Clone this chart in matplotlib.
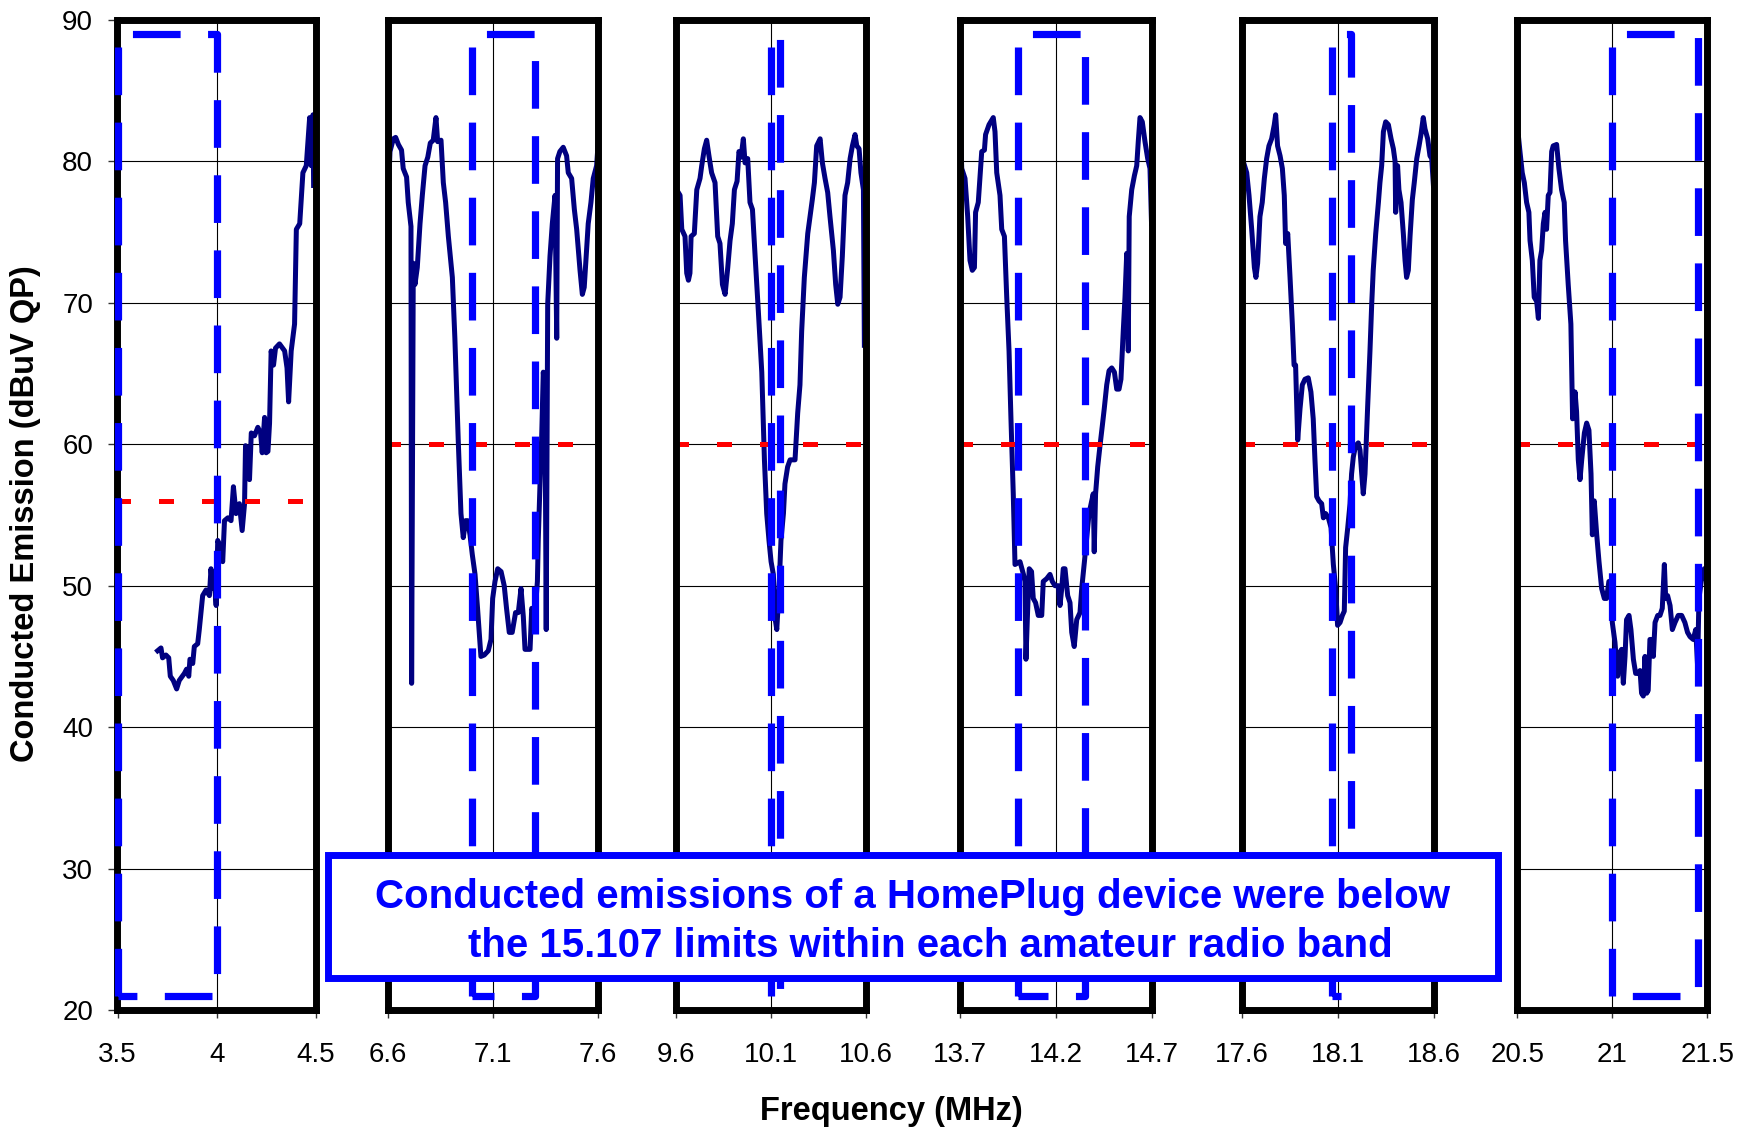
import matplotlib
matplotlib.use("Agg")
import matplotlib.pyplot as plt
from matplotlib.patches import Rectangle

# panel start frequencies (MHz), each panel spans 1 MHz
panel_starts = [3.5, 6.6, 9.6, 13.7, 17.6, 20.5]
# amateur bands (MHz)
band_low = [3.5, 7.0, 10.1, 14.0, 18.068, 21.0]
band_high = [4.0, 7.3, 10.15, 14.35, 18.168, 21.45]
# 15.107 limit per panel (dBuV QP)
limits = [56, 60, 60, 60, 60, 60]

f1 = [3.702, 3.719, 3.727, 3.744, 3.758, 3.766, 3.781, 3.798, 3.811, 3.837,
      3.848, 3.859, 3.865, 3.879, 3.887, 3.904, 3.912, 3.929, 3.946, 3.963,
      3.971, 3.980, 3.988, 3.997, 4.005, 4.017, 4.030, 4.039, 4.056, 4.072,
      4.084, 4.097, 4.114, 4.128, 4.140, 4.145, 4.157, 4.165, 4.174, 4.190,
      4.207, 4.221, 4.229, 4.241, 4.249, 4.258, 4.266, 4.274, 4.286, 4.296,
      4.316, 4.342, 4.354, 4.362, 4.375, 4.392, 4.401, 4.418, 4.434, 4.451,
      4.468, 4.476, 4.485, 4.488]
l1 = [45.4, 45.6, 44.9, 45.1, 44.9, 43.6, 43.3, 42.7, 43.3, 43.8,
      44.1, 43.6, 44.8, 44.5, 45.7, 45.9, 46.9, 49.3, 49.7, 49.3,
      51.2, 49.8, 50.3, 48.6, 53.2, 52.7, 51.7, 54.6, 54.8, 54.6,
      57.0, 55.1, 55.8, 53.9, 55.8, 59.9, 59.6, 57.5, 60.8, 60.6,
      61.2, 60.8, 59.4, 61.9, 59.4, 59.5, 61.5, 66.6, 65.6, 66.8,
      67.1, 66.6, 65.4, 63.0, 66.6, 68.5, 75.2, 75.6, 79.2, 79.7,
      83.1, 79.7, 83.3, 78.3]

f2 = [6.603, 6.608, 6.624, 6.635, 6.648, 6.663, 6.671, 6.687, 6.695, 6.708,
      6.711, 6.719, 6.727, 6.738, 6.751, 6.762, 6.775, 6.788, 6.800, 6.814,
      6.827, 6.835, 6.851, 6.862, 6.873, 6.886, 6.905, 6.917, 6.933, 6.946,
      6.957, 6.968, 6.978, 6.989, 7.000, 7.013, 7.025, 7.041, 7.057, 7.076,
      7.089, 7.097, 7.108, 7.121, 7.137, 7.152, 7.163, 7.176, 7.190, 7.206,
      7.219, 7.232, 7.243, 7.251, 7.263, 7.275, 7.283, 7.298, 7.310, 7.314,
      7.322, 7.330, 7.338, 7.346, 7.352, 7.359, 7.370, 7.381, 7.394, 7.402,
      7.406, 7.417, 7.433, 7.449, 7.457, 7.473, 7.486, 7.497, 7.513, 7.524,
      7.533, 7.544, 7.552, 7.565, 7.576, 7.592, 7.603]
l2 = [78.8, 80.7, 81.6, 81.7, 81.2, 80.8, 79.5, 78.9, 77.1, 75.4,
      43.1, 72.8, 71.3, 72.5, 75.6, 77.6, 79.7, 80.3, 81.3, 81.5,
      83.1, 81.4, 81.5, 78.5, 77.1, 74.7, 71.8, 67.5, 60.3, 55.1,
      53.4, 54.6, 54.6, 53.6, 52.2, 50.8, 48.4, 45.0, 45.1, 45.4,
      46.2, 49.1, 50.3, 51.2, 51.0, 50.0, 48.4, 46.7, 46.7, 48.1,
      48.1, 49.8, 47.8, 45.5, 45.5, 45.5, 48.4, 47.9, 50.3, 53.2,
      57.0, 60.3, 65.1, 63.7, 46.9, 69.9, 73.3, 75.6, 77.6, 67.5,
      80.2, 80.7, 81.0, 80.4, 79.2, 78.8, 76.6, 75.2, 72.3, 70.6,
      71.1, 73.7, 75.6, 77.1, 78.8, 79.7, 82.1]

f3 = [9.600, 9.605, 9.623, 9.632, 9.649, 9.658, 9.667, 9.675, 9.681, 9.698,
      9.711, 9.728, 9.737, 9.751, 9.763, 9.775, 9.789, 9.807, 9.821, 9.833,
      9.846, 9.860, 9.874, 9.886, 9.898, 9.909, 9.923, 9.933, 9.944, 9.956,
      9.965, 9.979, 9.991, 10.004, 10.018, 10.035, 10.053, 10.067, 10.079, 10.091,
      10.102, 10.114, 10.123, 10.132, 10.144, 10.154, 10.167, 10.175, 10.189, 10.202,
      10.228, 10.242, 10.254, 10.263, 10.277, 10.295, 10.307, 10.319, 10.330, 10.342,
      10.360, 10.372, 10.386, 10.400, 10.412, 10.430, 10.442, 10.453, 10.465, 10.477,
      10.491, 10.505, 10.518, 10.530, 10.544, 10.553, 10.565, 10.575, 10.588, 10.593]
l3 = [80.7, 78.0, 77.6, 75.2, 74.7, 72.1, 71.6, 72.1, 74.7, 74.9,
      78.0, 78.8, 79.7, 80.9, 81.5, 80.4, 79.2, 78.5, 74.7, 74.2,
      71.3, 70.6, 72.5, 74.4, 75.6, 78.0, 78.6, 80.7, 80.3, 81.6,
      79.9, 80.2, 77.1, 76.6, 73.3, 69.4, 65.1, 58.9, 55.1, 53.2,
      51.7, 50.8, 47.7, 46.9, 49.8, 53.2, 55.1, 57.2, 58.4, 58.9,
      58.9, 62.2, 64.2, 68.0, 71.8, 74.9, 76.1, 77.3, 78.5, 81.1,
      81.6, 79.9, 78.8, 77.8, 76.1, 73.7, 71.3, 69.9, 70.4, 73.3,
      77.6, 78.5, 80.2, 81.1, 81.9, 81.1, 80.9, 79.2, 78.0, 67.0]

f4 = [13.703, 13.709, 13.726, 13.740, 13.752, 13.764, 13.775, 13.781, 13.795, 13.813,
      13.827, 13.833, 13.851, 13.873, 13.882, 13.891, 13.908, 13.917, 13.931, 13.943,
      13.955, 13.965, 13.977, 13.986, 14.012, 14.030, 14.038, 14.043, 14.052, 14.060,
      14.072, 14.081, 14.093, 14.107, 14.125, 14.133, 14.151, 14.168, 14.180, 14.194,
      14.211, 14.220, 14.229, 14.237, 14.246, 14.260, 14.272, 14.281, 14.294, 14.307,
      14.324, 14.333, 14.347, 14.359, 14.371, 14.385, 14.393, 14.398, 14.405, 14.416,
      14.428, 14.440, 14.450, 14.463, 14.475, 14.489, 14.503, 14.515, 14.527, 14.537,
      14.549, 14.558, 14.567, 14.575, 14.580, 14.593, 14.607, 14.619, 14.627, 14.636,
      14.648, 14.662, 14.676, 14.688, 14.696]
l4 = [81.9, 79.5, 78.8, 76.1, 73.0, 72.3, 72.5, 76.4, 77.1, 80.7,
      80.8, 81.9, 82.6, 83.1, 82.1, 79.2, 77.6, 75.2, 74.7, 70.4,
      66.6, 61.8, 56.5, 51.5, 51.7, 50.8, 50.3, 44.8, 48.4, 51.2,
      51.0, 49.1, 48.8, 47.9, 47.9, 50.3, 50.5, 50.8, 50.3, 50.0,
      50.0, 48.6, 49.8, 51.2, 51.2, 49.3, 48.8, 46.7, 45.7, 47.6,
      48.1, 49.8, 51.7, 53.4, 55.1, 56.0, 56.5, 52.4, 56.5, 58.4,
      59.9, 61.3, 62.5, 64.2, 65.2, 65.4, 65.1, 63.9, 63.9, 64.6,
      68.0, 70.4, 73.5, 66.6, 76.1, 78.0, 79.0, 79.7, 81.4, 83.1,
      82.8, 81.4, 80.2, 79.5, 75.6]

f5 = [17.600, 17.605, 17.623, 17.635, 17.649, 17.663, 17.671, 17.680, 17.692, 17.704,
      17.715, 17.727, 17.739, 17.753, 17.767, 17.774, 17.784, 17.797, 17.809, 17.819,
      17.826, 17.837, 17.849, 17.861, 17.870, 17.878, 17.889, 17.901, 17.913, 17.927,
      17.944, 17.958, 17.970, 17.979, 17.988, 18.000, 18.014, 18.023, 18.035, 18.049,
      18.063, 18.075, 18.087, 18.097, 18.110, 18.122, 18.132, 18.139, 18.150, 18.162,
      18.170, 18.179, 18.191, 18.205, 18.214, 18.223, 18.231, 18.240, 18.254, 18.266,
      18.275, 18.283, 18.296, 18.310, 18.318, 18.327, 18.336, 18.348, 18.362, 18.376,
      18.388, 18.397, 18.400, 18.410, 18.417, 18.428, 18.440, 18.449, 18.457, 18.466,
      18.475, 18.487, 18.497, 18.510, 18.522, 18.532, 18.544, 18.553, 18.567, 18.579,
      18.588, 18.597]
l5 = [83.3, 80.0, 79.2, 77.6, 75.2, 72.5, 71.8, 72.8, 76.1, 77.1,
      78.8, 80.2, 81.1, 81.6, 82.6, 83.3, 81.1, 80.4, 79.5, 77.6,
      74.2, 74.9, 71.8, 68.5, 65.6, 65.6, 60.3, 62.5, 64.2, 64.6,
      64.7, 63.7, 61.8, 58.9, 56.3, 56.0, 55.8, 54.8, 55.1, 54.8,
      54.1, 51.5, 49.8, 47.2, 47.4, 47.9, 48.2, 52.7, 54.1, 55.8,
      57.9, 59.1, 59.9, 60.1, 59.6, 57.9, 56.5, 57.9, 62.7, 66.6,
      69.9, 72.3, 74.9, 77.1, 78.5, 79.7, 82.1, 82.8, 82.6, 81.6,
      80.9, 80.0, 76.4, 79.7, 78.0, 77.1, 74.9, 73.0, 71.8, 72.3,
      74.7, 77.3, 78.5, 80.2, 81.1, 81.9, 83.1, 82.3, 81.6, 80.4,
      80.2, 78.3]

f6 = [20.500, 20.505, 20.514, 20.526, 20.537, 20.549, 20.561, 20.567, 20.579, 20.589,
      20.602, 20.611, 20.619, 20.628, 20.637, 20.646, 20.654, 20.663, 20.672, 20.681,
      20.689, 20.707, 20.719, 20.733, 20.747, 20.754, 20.768, 20.782, 20.791, 20.804,
      20.812, 20.821, 20.830, 20.839, 20.853, 20.865, 20.877, 20.888, 20.895, 20.905,
      20.918, 20.930, 20.944, 20.958, 20.970, 20.982, 20.993, 21.000, 21.014, 21.028,
      21.040, 21.049, 21.058, 21.067, 21.075, 21.088, 21.098, 21.111, 21.123, 21.137,
      21.146, 21.154, 21.163, 21.172, 21.181, 21.189, 21.198, 21.207, 21.216, 21.225,
      21.239, 21.251, 21.263, 21.274, 21.281, 21.291, 21.304, 21.316, 21.330, 21.347,
      21.365, 21.382, 21.396, 21.409, 21.426, 21.439, 21.449, 21.456, 21.470, 21.484,
      21.496, 21.500]
l6 = [78.8, 81.9, 80.7, 79.2, 78.5, 77.1, 76.4, 74.4, 73.0, 70.4,
      70.1, 68.9, 73.0, 73.7, 75.6, 76.4, 75.2, 77.6, 77.8, 80.7,
      81.1, 81.2, 79.5, 78.0, 77.1, 74.4, 71.3, 68.5, 61.8, 63.7,
      62.3, 58.9, 57.5, 58.9, 60.8, 61.5, 61.0, 57.9, 53.6, 56.0,
      53.6, 51.7, 49.8, 49.1, 49.1, 50.3, 50.3, 47.4, 46.0, 43.6,
      45.3, 45.5, 43.1, 45.0, 47.6, 47.9, 46.9, 44.8, 43.8, 43.8,
      44.0, 42.4, 42.2, 45.0, 42.4, 42.6, 46.2, 46.2, 45.0, 47.4,
      47.9, 47.9, 48.4, 51.5, 49.1, 49.3, 48.6, 46.9, 47.4, 47.9,
      47.9, 47.4, 46.7, 46.4, 46.2, 46.9, 44.3, 49.1, 50.5, 51.2,
      50.3, 49.3]

freqs = [f1, f2, f3, f4, f5, f6]
levels = [l1, l2, l3, l4, l5, l6]

plt.rcParams['font.family'] = ['Liberation Sans', 'DejaVu Sans']

W, H = 1738, 1127
fig = plt.figure(figsize=(W / 100, H / 100), dpi=100)

# panel left/right edges in pixels
panel_px = [(117.5, 316), (388.3, 598.3), (675.7, 865.7),
            (960, 1152.3), (1242.3, 1434), (1517.3, 1707.3)]
top_px, bottom_px = 20, 1010

for i, start in enumerate(panel_starts):
    x0, x1 = panel_px[i]
    ax = fig.add_axes([x0 / W, 1 - bottom_px / H, (x1 - x0) / W, (bottom_px - top_px) / H])
    ax.set_xlim(start, start + 1)
    ax.set_ylim(20, 90)

    ticks = [start, start + 0.5, start + 1]
    ax.set_xticks(ticks)
    ax.set_xticklabels([f"{t:g}" for t in ticks])
    ax.set_yticks(range(20, 91, 10))

    ax.grid(axis='y', color='black', lw=0.8, zorder=0)
    ax.axvline(start + 0.5, color='black', lw=0.8, zorder=0.5)
    ax.set_axisbelow(True)

    for sp in ax.spines.values():
        sp.set_linewidth(5)
        sp.set_color('black')

    ax.tick_params(axis='x', length=6, width=1, pad=17, labelsize=20, color='#333333')
    if i == 0:
        ax.tick_params(axis='y', length=6.5, width=1, pad=11, labelsize=20, color='#333333')
    else:
        ax.tick_params(axis='y', left=False, labelleft=False)

    ax.plot(freqs[i], levels[i], color='#000080', lw=3.6, zorder=2.2,
            solid_joinstyle='round')

    ax.plot([start, start + 1], [limits[i], limits[i]], color='red', lw=3.6,
            linestyle=(0.5, (3.0, 5.6)), zorder=2.4)

    lo, hi = band_low[i], band_high[i]
    ax.plot([lo, lo, hi, hi, lo], [21, 89, 89, 21, 21], color='#0000FF', lw=5.2,
            linestyle=(0, (6.6, 3.8)), zorder=3.5, clip_on=False)

fig.text(26 / W, 0.544, "Conducted Emission (dBuV QP)", rotation=90,
         ha='center', va='center', fontsize=23.5, fontweight='bold')
fig.text(891.6 / W, 1 - 1111.7 / H, "Frequency (MHz)", ha='center', va='center',
         fontsize=23.5, fontweight='bold')

box = Rectangle((327.6 / W, 1 - 978 / H), 1170.4 / W, 123 / H, transform=fig.transFigure,
                facecolor='white', edgecolor='#0000FF', lw=5, zorder=10)
fig.add_artist(box)
fig.text(912.8 / W, 1 - 897 / H, "Conducted emissions of a HomePlug device were below",
         ha='center', va='center', fontsize=29, fontweight='bold', color='#0000FF', zorder=11)
fig.text(930 / W, 1 - 946 / H, "the 15.107 limits within each amateur radio band",
         ha='center', va='center', fontsize=29, fontweight='bold', color='#0000FF', zorder=11)

plt.savefig("out.png", dpi=100)
plt.close()
